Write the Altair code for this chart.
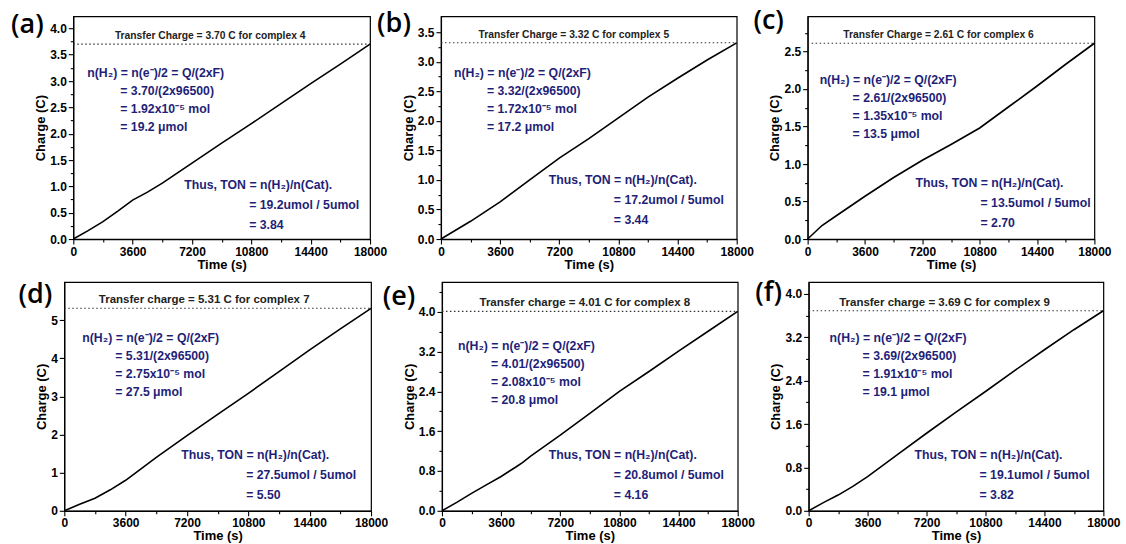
import altair as alt
import pandas as pd

FONT = "Liberation Sans"
NAVY = "#1f1f78"

# ---------------- data ----------------
letters = ["(a)", "(b)", "(c)", "(d)", "(e)", "(f)"]
complex_ids = [4, 5, 6, 7, 8, 9]
transfer = [3.70, 3.32, 2.61, 5.31, 4.01, 3.69]
charge_word = ["Charge", "Charge", "Charge", "charge", "charge", "charge"]
q_txt = ["3.70", "3.32", "2.61", "5.31", "4.01", "3.69"]
mol_txt = ["1.92", "1.72", "1.35", "2.75", "2.08", "1.91"]
umol_txt = ["19.2", "17.2", "13.5", "27.5", "20.8", "19.1"]
ton_txt = ["3.84", "3.44", "2.70", "5.50", "4.16", "3.82"]

time_a = [0, 900, 1800, 2700, 3600, 4500, 5400, 6300, 7200, 9000, 10800, 12600, 14400, 16200, 18000]
charge_a = [0, 0.16, 0.33, 0.53, 0.74, 0.89, 1.06, 1.25, 1.44, 1.82, 2.19, 2.57, 2.95, 3.32, 3.70]
time_b = [0, 1800, 3600, 5400, 7200, 9000, 10800, 12600, 14400, 16200, 18000]
charge_b = [0, 0.30, 0.63, 1.00, 1.37, 1.70, 2.05, 2.40, 2.72, 3.03, 3.32]
time_c = [0, 900, 1800, 3600, 5400, 7200, 9000, 10800, 12600, 14400, 16200, 18000]
charge_c = [0, 0.18, 0.31, 0.57, 0.82, 1.05, 1.26, 1.48, 1.76, 2.04, 2.33, 2.61]
time_d = [0, 900, 1800, 2700, 3600, 4500, 5400, 7200, 9000, 10800, 12600, 14400, 16200, 18000]
charge_d = [0, 0.17, 0.33, 0.55, 0.80, 1.10, 1.40, 1.97, 2.53, 3.08, 3.65, 4.22, 4.77, 5.31]
time_e = [0, 900, 1800, 2700, 3600, 4500, 4900, 5400, 6300, 7200, 9000, 10800, 12600, 14400, 16200, 18000]
charge_e = [0, 0.17, 0.35, 0.52, 0.69, 0.88, 0.97, 1.10, 1.31, 1.52, 1.96, 2.40, 2.80, 3.21, 3.61, 4.01]
time_f = [0, 900, 1800, 2700, 3600, 5400, 7200, 9000, 10800, 12600, 14400, 16200, 18000]
charge_f = [0, 0.15, 0.29, 0.45, 0.63, 1.03, 1.43, 1.82, 2.20, 2.59, 2.97, 3.34, 3.69]

times = [time_a, time_b, time_c, time_d, time_e, time_f]
charges = [charge_a, charge_b, charge_c, charge_d, charge_e, charge_f]

x_major = [0, 3600, 7200, 10800, 14400, 18000]
x_minor = [1800, 5400, 9000, 12600, 16200]

y_max = [4.23, 3.77, 2.97, 6.0, 4.6, 4.22]
y_major = [
    [0, 0.5, 1.0, 1.5, 2.0, 2.5, 3.0, 3.5, 4.0],
    [0, 0.5, 1.0, 1.5, 2.0, 2.5, 3.0, 3.5],
    [0, 0.5, 1.0, 1.5, 2.0, 2.5],
    [0, 1, 2, 3, 4, 5],
    [0, 0.8, 1.6, 2.4, 3.2, 4.0],
    [0, 0.8, 1.6, 2.4, 3.2, 4.0],
]
y_minor = [
    [0.25, 0.75, 1.25, 1.75, 2.25, 2.75, 3.25, 3.75],
    [0.25, 0.75, 1.25, 1.75, 2.25, 2.75, 3.25],
    [0.25, 0.75, 1.25, 1.75, 2.25, 2.75],
    [0.5, 1.5, 2.5, 3.5, 4.5, 5.5],
    [0.4, 1.2, 2.0, 2.8, 3.6, 4.4],
    [0.4, 1.2, 2.0, 2.8, 3.6],
]
y_fmt = [".1f", ".1f", ".1f", "d", ".1f", ".1f"]

# ---------------- layout / style ----------------
widths = [297, 296, 287, 307, 296, 295]
heights = [223, 223, 223, 229, 229, 229]
letter_x = [-46, -47, -39, -29, -43, -40]
letter_y = [17, 16, 13, 21, 23, 19]
label_cx = [137, 133, 131, 140, 143, 136]
label_size = [10.3, 10.3, 10.3, 11.5, 11.5, 11.5]
blk1_x = [14, 13, 12, 18, 16, 21]
blk1_y = [57, 57, 64, 56, 64, 56]
blk2_x = [111, 108, 108, 117, 107, 106]
blk2_y = [169, 164, 167, 173, 173, 173]
LINE_H = 18
ANN_SIZE = 12.3


def is_major(majors):
    return "indexof([" + ",".join(str(v) for v in majors) + "], datum.value) >= 0"


def cond_num(majors, major_val, minor_val):
    return {"condition": {"test": is_major(majors), "value": major_val}, "value": minor_val}


def panel(i):
    df = pd.DataFrame({"t": times[i], "q": charges[i]})
    ymaj = y_major[i]
    x_axis = alt.Axis(
        values=sorted(x_major + x_minor),
        format="d",
        labelExpr=is_major(x_major) + " ? datum.label : ''",
        tickSize=cond_num(x_major, 5, 3),
        labelFlush=False,
        labelOverlap=False,
        grid=False,
    )
    y_axis = alt.Axis(
        values=sorted(ymaj + y_minor[i]),
        format=y_fmt[i],
        labelExpr=is_major(ymaj) + " ? datum.label : ''",
        tickSize=cond_num(ymaj, 5, 3),
        labelFlush=False,
        labelOverlap=False,
        grid=False,
    )
    x_scale = alt.Scale(domain=[0, 18000], nice=False, zero=False)
    y_scale = alt.Scale(domain=[0, y_max[i]], nice=False, zero=False)
    x_enc = alt.X("t:Q", title="Time (s)", scale=x_scale, axis=x_axis)
    y_enc = alt.Y("q:Q", title="Charge (C)", scale=y_scale, axis=y_axis)

    line = alt.Chart(df).mark_line(color="black", strokeWidth=1.6).encode(x=x_enc, y=y_enc)

    ref_df = pd.DataFrame({
        "t": [0], "t2": [18000], "q": [transfer[i]],
        "label": [f"Transfer {charge_word[i]} = {q_txt[i]} C for complex {complex_ids[i]}"],
    })
    rule = alt.Chart(ref_df).mark_rule(color="#333333", strokeWidth=1.1, strokeDash=[1.5, 2.5]).encode(
        x=x_enc, x2="t2:Q", y=y_enc
    )
    tlabel = alt.Chart(ref_df).mark_text(
        font=FONT, fontWeight="bold", fontSize=label_size[i], color="#222222",
        align="center", baseline="bottom", dy=-3,
    ).encode(x=alt.value(label_cx[i]), y=y_enc, text="label:N")

    block1 = [
        "n(H\u2082) = n(e\u207b)/2 = Q/(2xF)",
        f"= {q_txt[i]}/(2x96500)",
        f"= {mol_txt[i]}x10\u207b\u2075 mol",
        f"= {umol_txt[i]} \u03bcmol",
    ]
    block2 = [
        "Thus, TON = n(H\u2082)/n(Cat).",
        f"= {umol_txt[i]}umol / 5umol",
        f"= {ton_txt[i]}",
    ]
    texts = []
    for k, s in enumerate(block1):
        xx = blk1_x[i] + (0 if k == 0 else 33)
        yy = blk1_y[i] + k * LINE_H
        texts.append(
            alt.Chart(pd.DataFrame({"s": [s]})).mark_text(
                font=FONT, fontWeight="bold", fontSize=ANN_SIZE, color=NAVY, align="left", baseline="middle"
            ).encode(x=alt.value(xx), y=alt.value(yy), text="s:N")
        )
    for k, s in enumerate(block2):
        xx = blk2_x[i] + (0 if k == 0 else 65)
        yy = blk2_y[i] + k * 20
        texts.append(
            alt.Chart(pd.DataFrame({"s": [s]})).mark_text(
                font=FONT, fontWeight="bold", fontSize=ANN_SIZE, color=NAVY, align="left", baseline="middle"
            ).encode(x=alt.value(xx), y=alt.value(yy), text="s:N")
        )
    letter = alt.Chart(pd.DataFrame({"s": [letters[i]]})).mark_text(
        font="Open Sans", fontSize=27, fontWeight=600, color="black", align="center", baseline="alphabetic"
    ).encode(x=alt.value(letter_x[i]), y=alt.value(letter_y[i]), text="s:N")

    layers = [rule, line, tlabel, letter, *texts]
    if i == 3:
        # invisible anchor that widens the lower row's left bound, so the rows sit as in the figure
        anchor = alt.Chart(pd.DataFrame({"s": ["."]})).mark_text(
            opacity=0, fontSize=10, align="left", baseline="middle"
        ).encode(x=alt.value(-60), y=alt.value(120), text="s:N")
        layers.append(anchor)
    return alt.layer(*layers).properties(width=widths[i], height=heights[i])


row1 = alt.hconcat(panel(0), panel(1), panel(2), spacing=71, bounds="flush")
row2 = alt.hconcat(panel(3), panel(4), panel(5), spacing=71, bounds="flush")

chart = alt.vconcat(row1, row2, spacing=6, center=True).properties(
    padding={"left": 3, "top": 6, "right": 5, "bottom": 2}
).configure_view(
    stroke="black", strokeWidth=1.2
).configure_axis(
    labelFont=FONT, labelFontWeight="bold", labelFontSize=12, labelColor="black",
    titleFont=FONT, titleFontWeight="bold", titleFontSize=13, titleColor="black",
    domainColor="black", domainWidth=1.2, tickColor="black", tickWidth=1.1,
    labelPadding=2,
).configure_axisX(titlePadding=1).configure_axisY(titlePadding=2)

chart.save("out.html", embed_options={"renderer": "svg", "actions": False})
